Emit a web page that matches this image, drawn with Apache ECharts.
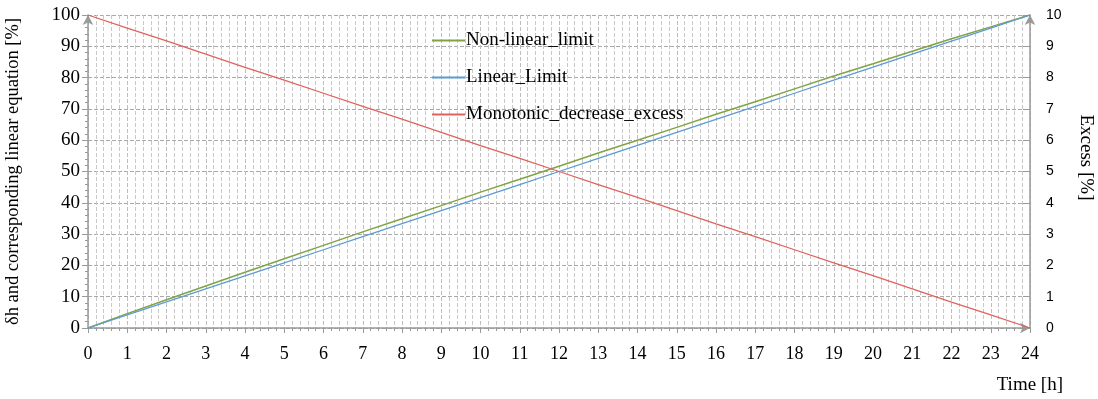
<!DOCTYPE html>
<html><head><meta charset="utf-8">
<script src="https://cdn.jsdelivr.net/npm/echarts@6/dist/echarts.min.js"></script>
<style>html,body{margin:0;padding:0;background:#fff}#c{width:1098px;height:399px}</style>
</head><body><div id="c"></div>
<script>
const hours = [0,1,2,3,4,5,6,7,8,9,10,11,12,13,14,15,16,17,18,19,20,21,22,23,24];
const nonLinearLimit = [0,4.6,9.0,13.4,17.8,22.1,26.4,30.7,34.9,39.1,43.4,47.5,51.7,55.9,60.0,64.1,68.3,72.3,76.4,80.5,84.4,88.4,92.4,96.2,100];
const linearLimit = [0,4.17,8.33,12.5,16.67,20.83,25,29.17,33.33,37.5,41.67,45.83,50,54.17,58.33,62.5,66.67,70.83,75,79.17,83.33,87.5,91.67,95.83,100];
const excess = [10,9.58,9.17,8.75,8.33,7.92,7.5,7.08,6.67,6.25,5.83,5.42,5,4.58,4.17,3.75,3.33,2.92,2.5,2.08,1.67,1.25,0.83,0.42,0];
const seriesNames = ['Non-linear_limit','Linear_Limit','Monotonic_decrease_excess'];

const serif = 'Liberation Serif, Times New Roman, serif';
const axisGrey = '#9a9a9a';
const pair = (ys) => hours.map((h,i)=>[h, ys[i]]);

const chart = echarts.init(document.getElementById('c'));
chart.setOption({
  animation:false,
  grid:{left:88, right:68, top:15, bottom:71, containLabel:false, outerBoundsMode:'none'},
  legend:{
    orient:'vertical', left:427, top:26, itemGap:18,
    itemWidth:33, itemHeight:2, icon:'rect',
    textStyle:{fontFamily:serif, fontSize:19, color:'#000', padding:[0,0,0,-4]},
    data:seriesNames
  },
  xAxis:{
    type:'value', min:0, max:24, interval:1,
    name:'Time [h]', nameLocation:'end', nameGap:0,
    nameTextStyle:{fontFamily:serif, fontSize:19, color:'#000', align:'right', verticalAlign:'top', padding:[48,-33,0,0]},
    axisLine:{show:true, onZero:false, lineStyle:{color:axisGrey, width:1.5}, symbol:['none','arrow'], symbolSize:[8,10]},
    axisTick:{show:true, length:5, lineStyle:{color:axisGrey}},
    minorTick:{show:true, splitNumber:5, length:3, lineStyle:{color:axisGrey}},
    axisLabel:{fontFamily:serif, fontSize:18, color:'#000', margin:17},
    splitLine:{show:true, lineStyle:{color:'#bdbdbd', type:'dashed'}},
    minorSplitLine:{show:true, lineStyle:{color:'#c8c8c8', type:'dashed'}}
  },
  yAxis:[{
    type:'value', min:0, max:100, interval:10, position:'left',
    name:'δh and corresponding linear equation [%]', nameLocation:'middle', nameGap:65, nameRotate:90,
    nameTextStyle:{fontFamily:serif, fontSize:18.5, color:'#000'},
    axisLine:{show:true, lineStyle:{color:axisGrey, width:1.5}, symbol:['none','arrow'], symbolSize:[8,10]},
    axisTick:{show:true, length:6, lineStyle:{color:axisGrey}},
    minorTick:{show:true, splitNumber:5, length:3, lineStyle:{color:axisGrey}},
    axisLabel:{fontFamily:serif, fontSize:19, color:'#000', margin:8},
    splitLine:{show:true, lineStyle:{color:'#a8a8a8', type:'dashed'}}
  },{
    type:'value', min:0, max:10, interval:1, position:'right',
    name:'Excess [%]', nameLocation:'middle', nameGap:46, nameRotate:-90,
    nameTextStyle:{fontFamily:serif, fontSize:19, color:'#000', padding:[0,28,0,0]},
    axisLine:{show:true, lineStyle:{color:axisGrey, width:1.5}, symbol:['none','arrow'], symbolSize:[8,10]},
    axisTick:{show:true, inside:true, length:7, lineStyle:{color:axisGrey}},
    axisLabel:{fontFamily:'Liberation Sans, Arial, sans-serif', fontSize:14, color:'#000', margin:16},
    splitLine:{show:false}
  }],
  series:[
    {name:seriesNames[0], type:'line', data:pair(nonLinearLimit), symbol:'none', lineStyle:{color:'#82a342', width:1.5}, itemStyle:{color:'#82a342'}, z:3},
    {name:seriesNames[1], type:'line', data:pair(linearLimit), symbol:'none', lineStyle:{color:'#5b9bd5', width:1.3}, itemStyle:{color:'#5b9bd5'}, z:3},
    {name:seriesNames[2], type:'line', yAxisIndex:1, data:pair(excess), symbol:'none', lineStyle:{color:'#e0625e', width:1.3}, itemStyle:{color:'#e0625e'}, z:3}
  ]
});
</script></body></html>
